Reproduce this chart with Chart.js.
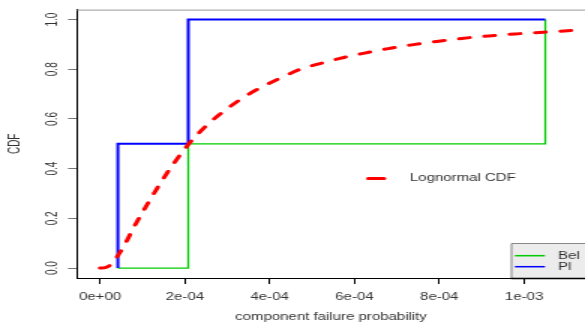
<!DOCTYPE html>
<html>
<head>
<meta charset="utf-8">
<script src="https://cdn.jsdelivr.net/npm/chart.js@4"></script>
<style>
html,body{margin:0;padding:0;background:#fff;}
#c{display:block;width:585px;height:323px;}
</style>
</head>
<body>
<canvas id="c" width="390" height="323" style="width:585px;height:323px;"></canvas>
<script>
// ---- data ----
const xTickValues = [0, 2e-4, 4e-4, 6e-4, 8e-4, 1e-3];
const xTickLabels = ["0e+00", "2e-04", "4e-04", "6e-04", "8e-04", "1e-03"];
const yTickValues = [0, 0.2, 0.4, 0.6, 0.8, 1.0];
const yTickLabels = ["0.0", "0.2", "0.4", "0.6", "0.8", "1.0"];

const belX = [4.2e-5, 2.08e-4, 2.08e-4, 1.05e-3, 1.05e-3];
const belY = [0, 0, 0.5, 0.5, 1.0];
const plX  = [4.2e-5, 4.2e-5, 2.08e-4, 2.08e-4, 1.05e-3];
const plY  = [0, 0.5, 0.5, 1.0, 1.0];

const lognormX = [0, 1.2e-5, 2.4e-5, 4.2e-5, 6e-5, 7.9e-5, 1.18e-4, 1.57e-4, 2.08e-4, 2.52e-4, 2.91e-4,
  3.46e-4, 3.89e-4, 4.32e-4, 4.72e-4, 5.19e-4, 5.66e-4, 6.21e-4, 6.76e-4, 7.31e-4, 7.94e-4,
  8.53e-4, 9.16e-4, 9.79e-4, 1.046e-3, 1.112e-3, 1.144e-3];
const lognormY = [0, 0.002, 0.012, 0.05, 0.1, 0.162, 0.275, 0.38, 0.497, 0.575, 0.63,
  0.695, 0.735, 0.77, 0.8, 0.823, 0.844, 0.864, 0.882, 0.897, 0.912,
  0.924, 0.934, 0.942, 0.949, 0.956, 0.959];

const seriesNames = ["Lognormal CDF", "Pl", "Bel"];
const xTitle = "component failure probability";
const yTitle = "CDF";

const pts = (xs, ys) => xs.map((x, i) => ({x: x, y: ys[i]}));
const FONT = "'Liberation Sans', Arial, sans-serif";
const TXT = '#333';

const extras = {
  id: 'extras',
  afterDraw(chart) {
    const ctx = chart.ctx, a = chart.chartArea;
    ctx.save();
    // top border of the plot box
    ctx.strokeStyle = '#999';
    ctx.lineWidth = 1;
    ctx.beginPath();
    ctx.moveTo(a.left, a.top + 0.5);
    ctx.lineTo(a.right, a.top + 0.5);
    ctx.stroke();

    ctx.font = '10px ' + FONT;
    ctx.textBaseline = 'middle';
    ctx.textAlign = 'left';

    // Lognormal legend (no box)
    const ds0 = chart.data.datasets[0];
    ctx.strokeStyle = ds0.borderColor;
    ctx.lineWidth = 3;
    ctx.lineCap = 'round';
    ctx.beginPath();
    ctx.moveTo(245.5, 178.5);
    ctx.lineTo(256, 178.5);
    ctx.stroke();
    ctx.fillStyle = TXT;
    ctx.fillText(seriesNames[0], 273.3, 178.5);

    // Bel / Pl legend box
    ctx.lineCap = 'butt';
    ctx.fillStyle = '#ececec';
    ctx.fillRect(340.7, 243.5, 60, 34.5);
    ctx.strokeStyle = '#888';
    ctx.lineWidth = 1;
    ctx.beginPath();
    ctx.moveTo(341, 278);
    ctx.lineTo(341, 243.5);
    ctx.lineTo(392, 243.5);
    ctx.stroke();
    const dsBel = chart.data.datasets[2], dsPl = chart.data.datasets[1];
    ctx.strokeStyle = dsBel.borderColor; ctx.lineWidth = 1.5;
    ctx.beginPath(); ctx.moveTo(343.3, 255.7); ctx.lineTo(363.3, 255.7); ctx.stroke();
    ctx.strokeStyle = dsPl.borderColor; ctx.lineWidth = 1.5;
    ctx.beginPath(); ctx.moveTo(343.3, 266.7); ctx.lineTo(363.3, 266.7); ctx.stroke();
    ctx.fillStyle = TXT;
    ctx.fillText(seriesNames[2], 372, 256.5);
    ctx.fillText(seriesNames[1], 372, 267.5);
    // axis line under the box bottom
    ctx.strokeStyle = '#000';
    ctx.beginPath(); ctx.moveTo(340.7, a.bottom + 0.5); ctx.lineTo(a.right, a.bottom + 0.5); ctx.stroke();
    ctx.restore();
  }
};

new Chart(document.getElementById('c'), {
  type: 'scatter',
  data: {
    datasets: [
      { label: seriesNames[0], data: pts(lognormX, lognormY), showLine: true,
        borderColor: '#ff0000', borderWidth: 3, borderDash: [7, 10], borderCapStyle: 'round',
        cubicInterpolationMode: 'monotone', pointRadius: 0, fill: false },
      { label: seriesNames[1], data: pts(plX, plY), showLine: true,
        borderColor: '#0000ff', borderWidth: 2, pointRadius: 0, fill: false, tension: 0 },
      { label: seriesNames[2], data: pts(belX, belY), showLine: true,
        borderColor: '#00cc00', borderWidth: 1.3, pointRadius: 0, fill: false, tension: 0 }
    ]
  },
  options: {
    responsive: false,
    devicePixelRatio: 1,
    animation: false,
    layout: { padding: { top: 5, right: 0, left: 0, bottom: 0 } },
    plugins: { legend: { display: false }, tooltip: { enabled: false } },
    scales: {
      x: {
        type: 'linear', min: -5.44e-5, max: 1.1436e-3,
        afterBuildTicks: s => { s.ticks = xTickValues.map(v => ({value: v})); },
        afterFit: s => { s.height = 45; },
        ticks: { callback: (v) => { const i = xTickValues.findIndex(t => Math.abs(t - v) < 1e-9); return i >= 0 ? xTickLabels[i] : ''; },
                 color: TXT, font: { family: FONT, size: 10 }, padding: 7, maxRotation: 0, minRotation: 0, autoSkip: false },
        grid: { drawOnChartArea: false, drawTicks: true, tickLength: 6, tickColor: '#000' },
        border: { display: true, color: '#000', width: 1 },
        title: { display: true, text: xTitle, color: TXT, font: { family: FONT, size: 10 }, padding: { top: 0, bottom: 0 } }
      },
      y: {
        type: 'linear', min: -0.04, max: 1.04,
        afterBuildTicks: s => { s.ticks = yTickValues.map(v => ({value: v})); },
        afterFit: s => { s.width = 51.33; },
        ticks: { callback: (v) => { const i = yTickValues.findIndex(t => Math.abs(t - v) < 1e-9); return i >= 0 ? yTickLabels[i] : ''; },
                 color: TXT, font: { family: FONT, size: 10 }, padding: 3.6, minRotation: 90, maxRotation: 90,
                 crossAlign: 'center', autoSkip: false },
        grid: { drawOnChartArea: false, drawTicks: true, tickLength: 6, tickColor: '#777' },
        border: { display: true, color: '#000', width: 1 },
        title: { display: true, text: yTitle, color: TXT, font: { family: FONT, size: 10 }, padding: { top: 4.7, bottom: 0 } }
      }
    }
  },
  plugins: [extras]
});
</script>
</body>
</html>
